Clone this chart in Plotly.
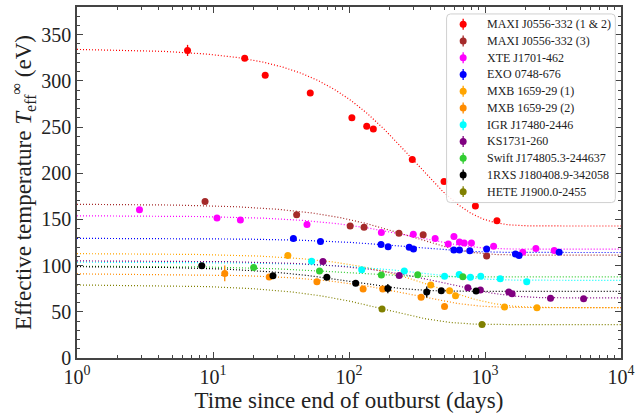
import numpy as np
import plotly.graph_objects as go

# ---------------- data ----------------
names = ["MAXI J0556-332 (1 & 2)", "MAXI J0556-332 (3)", "XTE J1701-462", "EXO 0748-676",
         "MXB 1659-29 (1)", "MXB 1659-29 (2)", "IGR J17480-2446", "KS1731-260",
         "Swift J174805.3-244637", "1RXS J180408.9-342058", "HETE J1900.0-2455"]
colors = ["#ff0000", "#a52a2a", "#ff00ff", "#0000ff", "#ffa500", "#ff8c00",
          "#00ffff", "#800080", "#32cd32", "#000000", "#808000"]

maxi12_t = [6.5, 17.1, 24.2, 51.9, 105, 135, 151, 292, 500, 850, 1224]
maxi12_T = [333, 324.5, 306, 287, 260, 251, 248, 215, 191, 164.5, 148.5]
maxi12_e = [6, 0, 0, 0, 0, 0, 0, 0, 0, 0, 0]

maxi3_t = [8.74, 41.2, 102, 129, 233, 351, 1028]
maxi3_T = [169.5, 155, 143, 141.5, 135, 133.5, 110.5]
maxi3_e = [0, 0, 0, 0, 0, 0, 0]

xte_t = [2.88, 10.7, 15.9, 49.1, 173, 297, 430, 537, 591, 649, 703, 795, 1157, 1893, 2367, 3228]
xte_T = [160.5, 151.5, 149.5, 144.5, 136, 134, 129.5, 123.5, 131.5, 125.5, 124.5, 124.5,
         121, 114.5, 118.5, 116.5]
xte_e = [0] * 16

exo_t = [39, 61.7, 172, 194, 277, 298, 590, 649, 773, 1028, 1675, 1780, 3510]
exo_T = [129.5, 126, 123, 120.5, 120, 118, 117, 117, 116, 118, 112.5, 111, 114.5]
exo_e = [0] * 13

mxb1_t = [35.5, 399, 549, 607, 1392, 2410]
mxb1_T = [111, 79, 72.8, 67.5, 55.3, 54.5]
mxb1_e = [0] * 6

mxb2_t = [12.2, 25.9, 58.1, 127, 177, 339, 504]
mxb2_T = [91.6, 87.6, 82.5, 74.7, 74.7, 65.7, 55.8]
mxb2_e = [8.5, 0, 0, 0, 0, 0, 0]

igr_t = [53.1, 124, 255, 504, 646, 781, 930, 1294, 2027]
igr_T = [104.8, 95.5, 94.1, 88.4, 90.5, 87.3, 88.4, 85.8, 82.5]
igr_e = [0] * 9

ks_t = [64.3, 234, 748, 925, 1496, 1582, 3033, 5309]
ks_T = [104.5, 89.4, 76.1, 73.6, 71.4, 69.6, 64.7, 64.2]
ks_e = [0] * 8

swift_t = [19.9, 60.7, 173, 320, 687]
swift_T = [98.1, 94.1, 89.8, 90.1, 87.9]
swift_e = [0] * 5

rxs_t = [8.27, 27.6, 68.7, 112, 193, 373, 477, 860]
rxs_T = [99.8, 89, 87.3, 80.8, 75.2, 71.4, 72.8, 72.5]
rxs_e = [0, 0, 0, 0, 5, 6, 0, 0]

hete_t = [175, 951]
hete_T = [53.1, 36.2]
hete_e = [0, 0]

# fitted cooling-curve parameters (initial temperature, base temperature, e-folding time in days)
curve_top = [334.7, 166.6, 154.1, 129.6, 113.1, 91.2, 103.8, 105.2, 99.5, 99.1, 79.3]
curve_base = [142.9, 111.3, 117.8, 114.2, 54.5, 54.5, 84.1, 65.0, 87.9, 72.2, 36.2]
curve_tau = [300, 280, 300, 300, 450, 300, 370, 550, 100, 110, 190]

x_ticks = [1, 10, 100, 1000, 10000]
x_ticktext = ["10<sup>0</sup>", "10<sup>1</sup>", "10<sup>2</sup>", "10<sup>3</sup>", "10<sup>4</sup>"]

series = [(maxi12_t, maxi12_T, maxi12_e), (maxi3_t, maxi3_T, maxi3_e), (xte_t, xte_T, xte_e),
          (exo_t, exo_T, exo_e), (mxb1_t, mxb1_T, mxb1_e), (mxb2_t, mxb2_T, mxb2_e),
          (igr_t, igr_T, igr_e), (ks_t, ks_T, ks_e), (swift_t, swift_T, swift_e),
          (rxs_t, rxs_T, rxs_e), (hete_t, hete_T, hete_e)]

FONT = "Liberation Serif, Times New Roman, serif"
fig = go.Figure()

t_grid = np.logspace(0, 4, 400)
for i, name in enumerate(names):
    model = curve_base[i] + (curve_top[i] - curve_base[i]) * np.exp(-t_grid / curve_tau[i])
    fig.add_trace(go.Scatter(x=t_grid, y=model, mode="lines", showlegend=False, hoverinfo="skip",
                             line=dict(color=colors[i], width=1.2, dash="1px,2px")))

for i, name in enumerate(names):
    t, T, e = series[i]
    fig.add_trace(go.Scatter(x=t, y=T, mode="markers", name=name, showlegend=False,
                             marker=dict(color=colors[i], size=7, line=dict(width=0)),
                             error_y=dict(type="data", array=e, visible=True, color=colors[i],
                                          thickness=1.3, width=0)))

# ---- custom legend (own overlay subplot measured in pixels) ----
leg_x0, leg_x1, leg_y0, leg_y1, r = 372.3, 542.3, 7, 196.7, 4
path = (f"M {leg_x0+r},{leg_y0} L {leg_x1-r},{leg_y0} Q {leg_x1},{leg_y0} {leg_x1},{leg_y0+r} "
        f"L {leg_x1},{leg_y1-r} Q {leg_x1},{leg_y1} {leg_x1-r},{leg_y1} L {leg_x0+r},{leg_y1} "
        f"Q {leg_x0},{leg_y1} {leg_x0},{leg_y1-r} L {leg_x0},{leg_y0+r} Q {leg_x0},{leg_y0} {leg_x0+r},{leg_y0} Z")
fig.add_shape(type="path", path=path, xref="x3", yref="y3", layer="below",
              line=dict(color="#d0d0d0", width=1), fillcolor="rgba(255,255,255,0.85)")
for i, name in enumerate(names):
    yy = 17.3 + 16.84 * i
    fig.add_trace(go.Scatter(x=[389], y=[yy], xaxis="x3", yaxis="y3", mode="markers",
                             showlegend=False, hoverinfo="skip",
                             marker=dict(color=colors[i], size=7, line=dict(width=0)),
                             error_y=dict(type="data", array=[5.5], color=colors[i], thickness=1.3, width=0)))
    fig.add_annotation(x=410.7, y=yy, xref="x3", yref="y3", text=name, showarrow=False,
                       xanchor="left", yanchor="middle", font=dict(family=FONT, size=12, color="#222222"))

axis_common = dict(showline=True, linecolor="#444444", linewidth=1.5, mirror="ticks",
                   ticks="inside", ticklen=6, tickwidth=1, tickcolor="#444444",
                   showgrid=False, zeroline=False,
                   tickfont=dict(family=FONT, size=20, color="#222222"))

fig.update_layout(
    width=640, height=413,
    margin=dict(l=77, r=15, t=5, b=55),
    paper_bgcolor="white", plot_bgcolor="rgba(0,0,0,0)",
    showlegend=False,
    xaxis=dict(type="log", range=[0, 4], tickvals=x_ticks, ticktext=x_ticktext,
               title=dict(text="Time since end of outburst (days)", font=dict(family=FONT, size=23, color="#222222"),
                          standoff=1),
               minor=dict(ticks="inside", ticklen=3.5, tickwidth=1, tickcolor="#444444",
                          tickvals=[m * 10 ** d for d in range(4) for m in range(2, 10)]),
               **axis_common),
    yaxis=dict(range=[0, 380], tickvals=[0, 50, 100, 150, 200, 250, 300, 350],
               title=dict(text="Effective temperature <i>T</i><sub>eff</sub><sup>∞</sup> (eV)",
                          font=dict(family=FONT, size=23, color="#222222"), standoff=3),
               minor=dict(ticks="inside", ticklen=3.5, tickwidth=1, tickcolor="#444444", dtick=10),
               **axis_common),
    xaxis3=dict(domain=[0, 1], range=[0, 548], anchor="y3", visible=False, fixedrange=True),
    yaxis3=dict(domain=[0, 1], range=[353, 0], anchor="x3", visible=False, fixedrange=True),
)

fig.write_html("out.html")
